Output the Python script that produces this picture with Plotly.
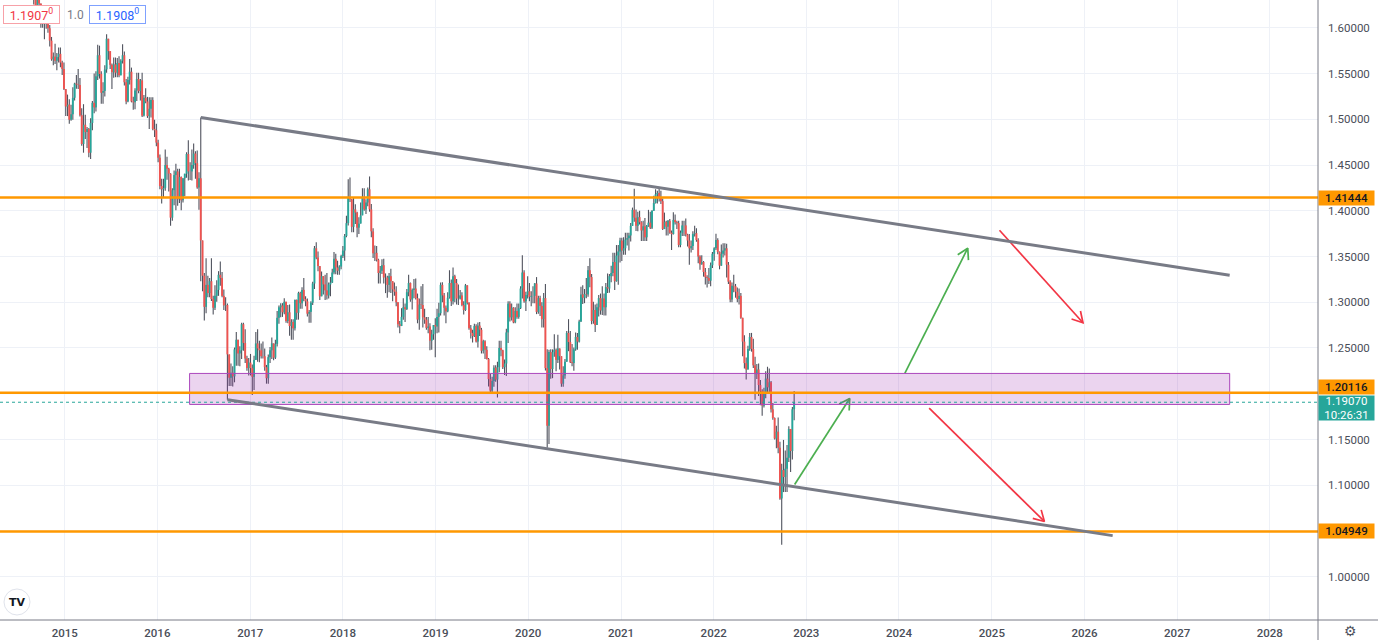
import math
import pandas as pd
import plotly.graph_objects as go

# ---------------- weekly GBPUSD bars (weeks starting Monday) ----------------
start_week = "2014-08-04"
first_open = 1.6875

c14 = [1.681, 1.670, 1.6575, 1.660, 1.632, 1.6245, 1.633, 1.6265, 1.604, 1.6085, 1.614, 1.609, 1.5995, 1.586,
       1.5655, 1.5685, 1.564, 1.568, 1.5715, 1.562, 1.555, 1.533]
h14 = [1.690, 1.683, 1.674, 1.663, 1.6645, 1.627, 1.6525, 1.642, 1.626, 1.619, 1.6165, 1.6185, 1.6125, 1.603,
       1.590, 1.573, 1.5825, 1.5725, 1.5785, 1.5785, 1.564, 1.562]
l14 = [1.677, 1.664, 1.653, 1.654, 1.6255, 1.6052, 1.616, 1.623, 1.600, 1.600, 1.5875, 1.599, 1.5945, 1.5795,
       1.564, 1.559, 1.5605, 1.5535, 1.562, 1.557, 1.5485, 1.532]

c15 = [1.514, 1.516, 1.4995, 1.5055, 1.5235, 1.539, 1.538, 1.5375, 1.5045, 1.473, 1.494, 1.486, 1.4895,
       1.4635, 1.496, 1.518, 1.513, 1.547, 1.570, 1.5495, 1.529, 1.531, 1.5545, 1.588, 1.5745, 1.5595,
       1.5515, 1.560, 1.551, 1.5615, 1.548, 1.564, 1.570, 1.5405, 1.5195, 1.543, 1.552, 1.5195, 1.5185,
       1.5315, 1.544, 1.531, 1.5425, 1.504, 1.5235, 1.5195, 1.5035, 1.5115, 1.521, 1.4895, 1.488, 1.4745]
h15 = [1.527, 1.527, 1.522, 1.516, 1.535, 1.540, 1.5485, 1.555, 1.545, 1.512, 1.5165, 1.505, 1.4915,
       1.4905, 1.501, 1.520, 1.550, 1.5525, 1.5815, 1.5805, 1.5525, 1.5405, 1.559, 1.593, 1.5845, 1.5745,
       1.561, 1.5675, 1.5675, 1.567, 1.569, 1.5655, 1.582, 1.574, 1.544, 1.5465, 1.566, 1.5565, 1.5245,
       1.534, 1.551, 1.551, 1.544, 1.551, 1.5265, 1.534, 1.5245, 1.524, 1.524, 1.524, 1.4995, 1.495]
l15 = [1.5035, 1.5035, 1.495, 1.4985, 1.4995, 1.5205, 1.5335, 1.533, 1.503, 1.471, 1.4635, 1.4785, 1.4685,
       1.4585, 1.4565, 1.488, 1.5065, 1.5085, 1.543, 1.5445, 1.517, 1.517, 1.525, 1.551, 1.565, 1.555,
       1.533, 1.5455, 1.546, 1.546, 1.546, 1.5505, 1.561, 1.537, 1.5165, 1.5185, 1.538, 1.5185, 1.5105,
       1.511, 1.520, 1.5285, 1.5205, 1.5025, 1.503, 1.5175, 1.5015, 1.4895, 1.502, 1.488, 1.4805, 1.4705]

c16 = [1.458, 1.427, 1.4235, 1.425, 1.450, 1.446, 1.4405, 1.3925, 1.4225, 1.439, 1.443, 1.4125, 1.437,
       1.4115, 1.4355, 1.4405, 1.462, 1.443, 1.443, 1.450, 1.4625, 1.452, 1.4255, 1.4355, 1.3675, 1.329,
       1.295, 1.319, 1.310, 1.323, 1.3035, 1.294, 1.307, 1.3135, 1.330, 1.3265, 1.307, 1.2965, 1.297,
       1.243, 1.2175, 1.223, 1.219, 1.2485, 1.259, 1.244, 1.2475, 1.276, 1.2555, 1.2385, 1.228, 1.234]
h16 = [1.4775, 1.4615, 1.435, 1.435, 1.467, 1.459, 1.447, 1.441, 1.4245, 1.444, 1.4515, 1.446, 1.446,
       1.4375, 1.4355, 1.4405, 1.464, 1.477, 1.453, 1.467, 1.4735, 1.465, 1.466, 1.442, 1.502, 1.3535,
       1.332, 1.348, 1.329, 1.3265, 1.348, 1.307, 1.3185, 1.324, 1.334, 1.3445, 1.333, 1.314, 1.3055,
       1.2985, 1.240, 1.233, 1.230, 1.2505, 1.2675, 1.256, 1.252, 1.2775, 1.2775, 1.2705, 1.2415, 1.239]
l16 = [1.453, 1.4235, 1.408, 1.414, 1.422, 1.434, 1.421, 1.3835, 1.389, 1.406, 1.4005, 1.4055, 1.4085,
       1.4005, 1.409, 1.416, 1.436, 1.433, 1.4335, 1.433, 1.446, 1.435, 1.424, 1.401, 1.323, 1.312,
       1.280, 1.288, 1.3055, 1.3055, 1.3015, 1.2865, 1.2915, 1.3005, 1.307, 1.318, 1.3055, 1.2915, 1.2905,
       1.1935, 1.2085, 1.2085, 1.208, 1.2125, 1.2305, 1.2305, 1.230, 1.238, 1.247, 1.2335, 1.225, 1.220]

c17 = [1.228, 1.2185, 1.237, 1.255, 1.2495, 1.2475, 1.241, 1.241, 1.229, 1.217, 1.240, 1.2475, 1.255,
       1.2395, 1.2545, 1.283, 1.2945, 1.2965, 1.289, 1.3005, 1.2795, 1.289, 1.274, 1.2785, 1.2715, 1.3025,
       1.2885, 1.310, 1.299, 1.3135, 1.3035, 1.301, 1.2875, 1.2895, 1.2995, 1.3205, 1.359, 1.349, 1.3395,
       1.3065, 1.3285, 1.3195, 1.313, 1.3075, 1.3195, 1.3215, 1.3325, 1.3475, 1.338, 1.3345, 1.339, 1.3505]
h17 = [1.2435, 1.232, 1.2415, 1.2675, 1.2705, 1.258, 1.255, 1.257, 1.2495, 1.2315, 1.243, 1.251, 1.2615,
       1.255, 1.259, 1.2905, 1.2965, 1.299, 1.299, 1.3045, 1.300, 1.297, 1.2975, 1.2815, 1.2815, 1.303,
       1.303, 1.3115, 1.3115, 1.3165, 1.3265, 1.3065, 1.304, 1.2915, 1.301, 1.3225, 1.3615, 1.3655, 1.3555,
       1.3385, 1.3335, 1.3255, 1.330, 1.332, 1.3215, 1.3275, 1.3365, 1.355, 1.353, 1.3455, 1.3405, 1.352]
l17 = [1.220, 1.1985, 1.204, 1.2405, 1.235, 1.2345, 1.2385, 1.2385, 1.225, 1.211, 1.211, 1.2335, 1.238,
       1.2365, 1.238, 1.2515, 1.2765, 1.2835, 1.284, 1.287, 1.2775, 1.277, 1.2635, 1.259, 1.259, 1.269,
       1.281, 1.281, 1.293, 1.293, 1.301, 1.2955, 1.2845, 1.2775, 1.2775, 1.297, 1.3145, 1.347, 1.334,
       1.3025, 1.309, 1.3085, 1.3025, 1.303, 1.304, 1.3065, 1.321, 1.3305, 1.3305, 1.330, 1.330, 1.336]

c18 = [1.3565, 1.3725, 1.3865, 1.415, 1.4125, 1.3825, 1.4015, 1.398, 1.3815, 1.386, 1.395, 1.414, 1.4015,
       1.409, 1.4235, 1.4015, 1.3775, 1.3535, 1.354, 1.3465, 1.332, 1.3345, 1.3405, 1.327, 1.327, 1.319,
       1.3285, 1.323, 1.314, 1.3115, 1.300, 1.276, 1.274, 1.284, 1.2945, 1.2925, 1.311, 1.321, 1.303,
       1.3135, 1.315, 1.3045, 1.281, 1.2975, 1.297, 1.2835, 1.281, 1.272, 1.2735, 1.258, 1.265, 1.275, 1.2735]
h18 = [1.3615, 1.3745, 1.3945, 1.4345, 1.4365, 1.413, 1.4145, 1.407, 1.399, 1.393, 1.409, 1.4245, 1.4245,
       1.4125, 1.4255, 1.4375, 1.4075, 1.381, 1.362, 1.3615, 1.3475, 1.3395, 1.347, 1.3475, 1.3315, 1.329,
       1.332, 1.3365, 1.3215, 1.3215, 1.3175, 1.2985, 1.2795, 1.2935, 1.3045, 1.2985, 1.3145, 1.330, 1.3215,
       1.315, 1.3255, 1.326, 1.3095, 1.304, 1.3175, 1.320, 1.293, 1.284, 1.284, 1.277, 1.270, 1.275, 1.2825]
l18 = [1.3485, 1.3455, 1.371, 1.384, 1.4095, 1.3765, 1.3765, 1.3855, 1.371, 1.3745, 1.386, 1.395, 1.400,
       1.3965, 1.405, 1.399, 1.371, 1.3485, 1.345, 1.3445, 1.3205, 1.3205, 1.331, 1.3205, 1.310, 1.305,
       1.311, 1.310, 1.301, 1.307, 1.2955, 1.2725, 1.266, 1.274, 1.281, 1.2785, 1.2915, 1.3065, 1.3005,
       1.292, 1.3045, 1.303, 1.277, 1.270, 1.2925, 1.2725, 1.2765, 1.270, 1.266, 1.2475, 1.248, 1.259, 1.240]

c19 = [1.284, 1.288, 1.319, 1.3075, 1.294, 1.290, 1.305, 1.321, 1.301, 1.3285, 1.321, 1.304,
       1.304, 1.3075, 1.297, 1.2915, 1.3185, 1.2995, 1.2715, 1.2665, 1.263, 1.274, 1.257, 1.2745, 1.270,
       1.247, 1.2575, 1.248, 1.238, 1.216, 1.2035, 1.214, 1.2285, 1.2155, 1.229, 1.250, 1.2475, 1.229, 1.233,
       1.267, 1.2985, 1.2835, 1.294, 1.278, 1.2905, 1.284, 1.2935, 1.315, 1.3325, 1.301, 1.308, 1.312]
h19 = [1.293, 1.2995, 1.3215, 1.322, 1.310, 1.2965, 1.311, 1.335, 1.325, 1.338, 1.330, 1.3255,
       1.3195, 1.3135, 1.311, 1.301, 1.320, 1.3175, 1.300, 1.275, 1.270, 1.2765, 1.276, 1.278, 1.2785,
       1.272, 1.259, 1.2585, 1.252, 1.239, 1.2215, 1.2185, 1.231, 1.231, 1.235, 1.258, 1.258, 1.248, 1.2375,
       1.271, 1.301, 1.301, 1.2985, 1.2945, 1.2945, 1.2985, 1.2985, 1.3175, 1.3515, 1.335, 1.3115, 1.3285]
l19 = [1.266, 1.267, 1.2855, 1.300, 1.2855, 1.277, 1.289, 1.304, 1.296, 1.2975, 1.300, 1.2975,
       1.297, 1.303, 1.2955, 1.2865, 1.2905, 1.2975, 1.270, 1.2605, 1.256, 1.262, 1.256, 1.2505, 1.263,
       1.244, 1.244, 1.238, 1.2375, 1.208, 1.2015, 1.2015, 1.2075, 1.213, 1.196, 1.2235, 1.241, 1.227, 1.2205,
       1.2195, 1.2555, 1.279, 1.280, 1.277, 1.277, 1.282, 1.282, 1.2925, 1.304, 1.2995, 1.2905, 1.304]

c20 = [1.306, 1.307, 1.307, 1.3205, 1.2895, 1.3045, 1.296, 1.2815, 1.3045, 1.228, 1.165, 1.2455, 1.227,
       1.2455, 1.248, 1.237, 1.2495, 1.241, 1.211, 1.220, 1.235, 1.2665, 1.2565, 1.2345, 1.2335, 1.2485,
       1.262, 1.257, 1.279, 1.3085, 1.305, 1.309, 1.3085, 1.335, 1.3275, 1.2795, 1.2915, 1.275, 1.2945,
       1.3045, 1.291, 1.304, 1.2945, 1.3165, 1.315, 1.3285, 1.332, 1.344, 1.323, 1.351, 1.3555, 1.3675]
h20 = [1.321, 1.312, 1.3175, 1.321, 1.3275, 1.307, 1.307, 1.300, 1.310, 1.320, 1.2485, 1.248, 1.2485,
       1.2485, 1.265, 1.2495, 1.2645, 1.2495, 1.2375, 1.230, 1.238, 1.2685, 1.2815, 1.2685, 1.2545, 1.2505,
       1.267, 1.2665, 1.281, 1.317, 1.3185, 1.3145, 1.3265, 1.3395, 1.348, 1.331, 1.3005, 1.2975, 1.2985,
       1.308, 1.3095, 1.3175, 1.3095, 1.321, 1.3315, 1.331, 1.340, 1.354, 1.354, 1.3625, 1.3625, 1.3705]
l20 = [1.301, 1.2955, 1.299, 1.299, 1.287, 1.2875, 1.285, 1.2725, 1.2725, 1.2255, 1.141, 1.145, 1.2165,
       1.217, 1.2405, 1.2245, 1.2335, 1.2265, 1.2075, 1.2075, 1.2165, 1.235, 1.2465, 1.2335, 1.230, 1.225,
       1.247, 1.248, 1.256, 1.2785, 1.298, 1.299, 1.3045, 1.306, 1.3165, 1.276, 1.2765, 1.2675, 1.2805,
       1.2845, 1.2865, 1.286, 1.2855, 1.2855, 1.310, 1.3105, 1.322, 1.3285, 1.3135, 1.3225, 1.319, 1.3435]

c21 = [1.3565, 1.359, 1.3685, 1.370, 1.373, 1.3835, 1.401, 1.3925, 1.3835, 1.393, 1.3875, 1.3785, 1.383,
       1.371, 1.3835, 1.387, 1.3815, 1.400, 1.4085, 1.418, 1.4195, 1.415, 1.4105, 1.380, 1.388, 1.3825,
       1.389, 1.376, 1.3745, 1.390, 1.3875, 1.3865, 1.3625, 1.376, 1.384, 1.384, 1.374, 1.3675, 1.359,
       1.3615, 1.3745, 1.3755, 1.368, 1.350, 1.3415, 1.344, 1.333, 1.3275, 1.3265, 1.3235, 1.3405, 1.353]
h21 = [1.3705, 1.371, 1.376, 1.376, 1.376, 1.3865, 1.4035, 1.424, 1.4015, 1.399, 1.400, 1.3885, 1.389,
       1.392, 1.3845, 1.401, 1.399, 1.4005, 1.4165, 1.4235, 1.422, 1.425, 1.422, 1.4135, 1.398, 1.389,
       1.390, 1.391, 1.3785, 1.3985, 1.396, 1.389, 1.389, 1.3785, 1.389, 1.389, 1.3915, 1.375, 1.3745,
       1.3675, 1.3775, 1.3835, 1.381, 1.370, 1.3515, 1.3515, 1.345, 1.3375, 1.3295, 1.3375, 1.3435, 1.355]
l21 = [1.345, 1.352, 1.352, 1.362, 1.3565, 1.3665, 1.385, 1.388, 1.378, 1.3775, 1.385, 1.367, 1.367,
       1.367, 1.367, 1.3825, 1.380, 1.380, 1.400, 1.408, 1.408, 1.410, 1.4075, 1.379, 1.380, 1.373,
       1.373, 1.375, 1.357, 1.374, 1.385, 1.380, 1.360, 1.360, 1.3725, 1.3725, 1.372, 1.361, 1.341,
       1.3545, 1.357, 1.372, 1.366, 1.3425, 1.3355, 1.341, 1.328, 1.3195, 1.316, 1.320, 1.3175, 1.3375]

c22 = [1.359, 1.368, 1.355, 1.340, 1.353, 1.3565, 1.359, 1.341, 1.3225, 1.303, 1.318, 1.3175, 1.3115,
       1.3035, 1.307, 1.283, 1.257, 1.2335, 1.2265, 1.249, 1.262, 1.249, 1.231, 1.2215, 1.2265, 1.2095,
       1.203, 1.187, 1.201, 1.2165, 1.207, 1.2125, 1.183, 1.1735, 1.151, 1.1585, 1.141, 1.0855, 1.1165,
       1.109, 1.118, 1.130, 1.1615, 1.1375, 1.183, 1.1907]
h22 = [1.360, 1.375, 1.370, 1.3555, 1.363, 1.3645, 1.3645, 1.364, 1.344, 1.324, 1.3215, 1.330, 1.320,
       1.316, 1.315, 1.310, 1.283, 1.264, 1.2395, 1.2525, 1.2665, 1.2665, 1.260, 1.2405, 1.2325, 1.233,
       1.215, 1.205, 1.2065, 1.2245, 1.2295, 1.2275, 1.214, 1.190, 1.174, 1.165, 1.174, 1.1475, 1.1235,
       1.1495, 1.138, 1.144, 1.1645, 1.1615, 1.1855, 1.203]
l22 = [1.3455, 1.357, 1.3525, 1.336, 1.342, 1.349, 1.351, 1.327, 1.320, 1.300, 1.300, 1.311, 1.305,
       1.300, 1.2975, 1.282, 1.241, 1.2275, 1.2155, 1.228, 1.247, 1.246, 1.228, 1.1935, 1.216, 1.1975,
       1.1875, 1.176, 1.185, 1.195, 1.2005, 1.2005, 1.1795, 1.1715, 1.150, 1.1405, 1.135, 1.084, 1.035,
       1.0925, 1.0925, 1.0925, 1.1255, 1.1145, 1.128, 1.171]

# ---------------- levels, drawings, ticks ----------------
levels = [1.41444, 1.20116, 1.04949]
level_labels = ["1.41444", "1.20116", "1.04949"]
last_price = 1.19070
last_label = "1.19070"
countdown = "10:26:31"

zone_x = ["2016-05-07", "2027-07-27"]
zone_y = [1.1883, 1.2222]

upper_x = ["2016-06-20", "2027-07-27"]
upper_y = [1.502, 1.3296]
lower_x = ["2016-10-03", "2026-04-22"]
lower_y = [1.1935, 1.0449]

arrow_x0 = ["2022-11-16", "2024-01-24", "2025-01-31", "2024-04-29"]
arrow_y0 = [1.1007, 1.2222, 1.3787, 1.1843]
arrow_x1 = ["2023-06-21", "2024-09-28", "2025-12-26", "2025-07-27"]
arrow_y1 = [1.1947, 1.3591, 1.2776, 1.0604]
arrow_col = ["#4caf50", "#4caf50", "#f23645", "#f23645"]

years = list(range(2015, 2029))
price_ticks = [1.00, 1.10, 1.15, 1.25, 1.30, 1.35, 1.40, 1.45, 1.50, 1.55, 1.60]
covered_grid = [1.05, 1.20]   # gridlines whose labels sit under the price boxes

# ---------------- geometry ----------------
FW, FH = 1378, 640
ML, MR, MT, MB = 0, 60, 0, 20
PW, PH = FW - ML - MR, FH - MT - MB
x_range = ["2014-04-21", "2028-07-09"]
y_range = [0.95267, 1.63039]

xr0 = pd.Timestamp(x_range[0]).value / 1e6
xr1 = pd.Timestamp(x_range[1]).value / 1e6


def to_px(d, p):
    t = pd.Timestamp(d).value / 1e6
    return (t - xr0) / (xr1 - xr0) * PW, (y_range[1] - p) / (y_range[1] - y_range[0]) * PH


def from_px(x, y):
    t = xr0 + x / PW * (xr1 - xr0)
    return pd.Timestamp(int(t * 1e6)), y_range[1] - y / PH * (y_range[1] - y_range[0])


def pp(x, y):
    """pixel -> paper coordinates"""
    return x / PW, 1 - y / PH


# ---------------- assemble bars ----------------
closes = c14 + c15 + c16 + c17 + c18 + c19 + c20 + c21 + c22
highs = h14 + h15 + h16 + h17 + h18 + h19 + h20 + h21 + h22
lows = l14 + l15 + l16 + l17 + l18 + l19 + l20 + l21 + l22
n = min(len(closes), len(highs), len(lows))
closes, highs, lows = closes[:n], highs[:n], lows[:n]
dates = pd.date_range(start_week, periods=n, freq="7D")
opens = [first_open] + closes[:-1]
highs = [max(h, o, c) for h, o, c in zip(highs, opens, closes)]
lows = [min(l, o, c) for l, o, c in zip(lows, opens, closes)]

wx, wy = [], []
ix, iy, dx, dy = [], [], [], []
for d, o, h, l, c in zip(dates, opens, highs, lows, closes):
    wx += [d, d, None]
    wy += [l, h, None]
    if c >= o:
        ix += [d, d, None]
        iy += [o, c, None]
    else:
        dx += [d, d, None]
        dy += [o, c, None]

UP, DN, WICK = "#26a69a", "#ef5350", "#50535e"
GRID = "#eef1f7"
fig = go.Figure()
fig.add_trace(go.Scatter(x=wx, y=wy, mode="lines", line=dict(color=WICK, width=1.1), hoverinfo="skip",
                         showlegend=False))
fig.add_trace(go.Scatter(x=ix, y=iy, mode="lines", line=dict(color=UP, width=1.9), hoverinfo="skip",
                         showlegend=False))
fig.add_trace(go.Scatter(x=dx, y=dy, mode="lines", line=dict(color=DN, width=1.9), hoverinfo="skip",
                         showlegend=False))

# ---------------- arrows with open chevron heads ----------------
HEAD, ANG = 12, math.radians(30)
for x0, y0, x1, y1, col in zip(arrow_x0, arrow_y0, arrow_x1, arrow_y1, arrow_col):
    sx, sy = to_px(x0, y0)
    tx, ty = to_px(x1, y1)
    L = math.hypot(tx - sx, ty - sy)
    ux, uy = (tx - sx) / L, (ty - sy) / L
    pts = []
    for s in (1, -1):
        ca, sa = math.cos(s * ANG), math.sin(s * ANG)
        rx, ry = ux * ca - uy * sa, ux * sa + uy * ca
        pts.append(from_px(tx - HEAD * rx, ty - HEAD * ry))
    xs = [pd.Timestamp(x0), pd.Timestamp(x1), None, pts[0][0], pd.Timestamp(x1), pts[1][0]]
    ys = [y0, y1, None, pts[0][1], y1, pts[1][1]]
    fig.add_trace(go.Scatter(x=xs, y=ys, mode="lines", line=dict(color=col, width=1.7),
                             hoverinfo="skip", showlegend=False, cliponaxis=False))

# ---------------- shapes ----------------
shapes = []
for g in covered_grid:
    shapes.append(dict(type="line", xref="paper", yref="y", x0=0, x1=1, y0=g, y1=g,
                       line=dict(color=GRID, width=1), layer="below"))
shapes.append(dict(type="rect", xref="x", yref="y", x0=zone_x[0], x1=zone_x[1], y0=zone_y[0], y1=zone_y[1],
                   fillcolor="rgba(156,39,176,0.2)", line=dict(color="#ab47bc", width=1), layer="above"))
shapes.append(dict(type="line", xref="paper", yref="y", x0=0, x1=1, y0=last_price, y1=last_price,
                   line=dict(color=UP, width=1, dash="dot"), layer="above"))
for lv in levels:
    shapes.append(dict(type="line", xref="paper", yref="y", x0=0, x1=1, y0=lv, y1=lv,
                       line=dict(color="#ff9800", width=2.5), layer="above"))
for xs_, ys_ in ((upper_x, upper_y), (lower_x, lower_y)):
    shapes.append(dict(type="line", xref="x", yref="y", x0=xs_[0], x1=xs_[1], y0=ys_[0], y1=ys_[1],
                       line=dict(color="#787b86", width=3), layer="above"))
# axis frame lines
shapes.append(dict(type="line", xref="paper", yref="paper", x0=0, x1=FW / PW, y0=0, y1=0,
                   line=dict(color="#787b86", width=1)))
shapes.append(dict(type="line", xref="paper", yref="paper", x0=1, x1=1, y0=-MB / PH, y1=1,
                   line=dict(color="#787b86", width=1)))
# TradingView logo circle
lx0, ly0 = pp(4, 589)
lx1, ly1 = pp(30, 615)
shapes.append(dict(type="circle", xref="paper", yref="paper", x0=lx0, x1=lx1, y0=ly1, y1=ly0,
                   fillcolor="white", line=dict(color="#e0e3eb", width=1), layer="above"))

# ---------------- annotations ----------------
ann = []
FONT = "Roboto, Arial, sans-serif"
label_centers = [197.5, 386.5, 531.0]
for txt, cy in zip(level_labels, label_centers):
    ax_, ay_ = pp(PW, cy)
    ann.append(dict(xref="paper", yref="paper", x=ax_, y=ay_, xanchor="left", yanchor="middle",
                    text=txt, showarrow=False, bgcolor="#ff9800", width=55, height=14, borderpad=0,
                    align="center", font=dict(family=FONT, size=11.5, color="#131722", weight=500)))
ax_, ay_ = pp(PW, 408)
ann.append(dict(xref="paper", yref="paper", x=ax_, y=ay_, xanchor="left", yanchor="middle",
                text=last_label + "<br>" + countdown, showarrow=False, bgcolor=UP, width=55, height=24,
                borderpad=0, align="center", font=dict(family=FONT, size=11.5, color="white")))

# top-left legend boxes
ax_, ay_ = pp(31.5, 14.5)
ann.append(dict(xref="paper", yref="paper", x=ax_, y=ay_, xanchor="center", yanchor="middle",
                text="1.1907<sup>0</sup>", showarrow=False, bgcolor="white", bordercolor="#f7a1a8",
                borderwidth=1, borderpad=1, width=53, height=15,
                font=dict(family=FONT, size=12.5, color="#f23645")))
ax_, ay_ = pp(75, 14.5)
ann.append(dict(xref="paper", yref="paper", x=ax_, y=ay_, xanchor="center", yanchor="middle",
                text="1.0", showarrow=False, font=dict(family=FONT, size=12, color="#787b86")))
ax_, ay_ = pp(117, 14.5)
ann.append(dict(xref="paper", yref="paper", x=ax_, y=ay_, xanchor="center", yanchor="middle",
                text="1.1908<sup>0</sup>", showarrow=False, bgcolor="white", bordercolor="#7fa1ff",
                borderwidth=1, borderpad=1, width=53, height=15,
                font=dict(family=FONT, size=12.5, color="#2962ff")))
# logo glyph
ax_, ay_ = pp(17, 602)
ann.append(dict(xref="paper", yref="paper", x=ax_, y=ay_, xanchor="center", yanchor="middle",
                text="<b>TV</b>", showarrow=False, font=dict(family="DejaVu Sans", size=11, color="#131722")))
# settings gear
ax_, ay_ = pp(1350, 631)
ann.append(dict(xref="paper", yref="paper", x=ax_, y=ay_, xanchor="center", yanchor="middle",
                text="⚙", showarrow=False, font=dict(family="DejaVu Sans", size=14, color="#50535e")))

year_vals = [f"{y}-01-01" for y in years]
ptext = [f"{v:.5f}" for v in price_ticks]

fig.update_layout(
    width=FW, height=FH, autosize=False,
    margin=dict(l=ML, r=MR, t=MT, b=MB, pad=0),
    paper_bgcolor="white", plot_bgcolor="white",
    showlegend=False, shapes=shapes, annotations=ann,
    xaxis=dict(type="date", range=x_range, tickmode="array", tickvals=year_vals,
               ticktext=[str(y) for y in years], showgrid=True, gridcolor=GRID, gridwidth=1,
               zeroline=False, showline=False, ticks="", ticklabelstandoff=4,
               tickfont=dict(family=FONT, size=11.5, color="#4a4e59", weight=500), fixedrange=True),
    yaxis=dict(side="right", range=y_range, tickmode="array", tickvals=price_ticks, ticktext=ptext,
               showgrid=True, gridcolor=GRID, gridwidth=1, zeroline=False, showline=False,
               ticks="", ticklabelstandoff=9,
               tickfont=dict(family=FONT, size=11.5, color="#4a4e59"), fixedrange=True),
)

fig.write_html("out.html", config={"displayModeBar": False},
               post_script="document.body.style.margin='0';document.body.style.overflow='hidden';")
